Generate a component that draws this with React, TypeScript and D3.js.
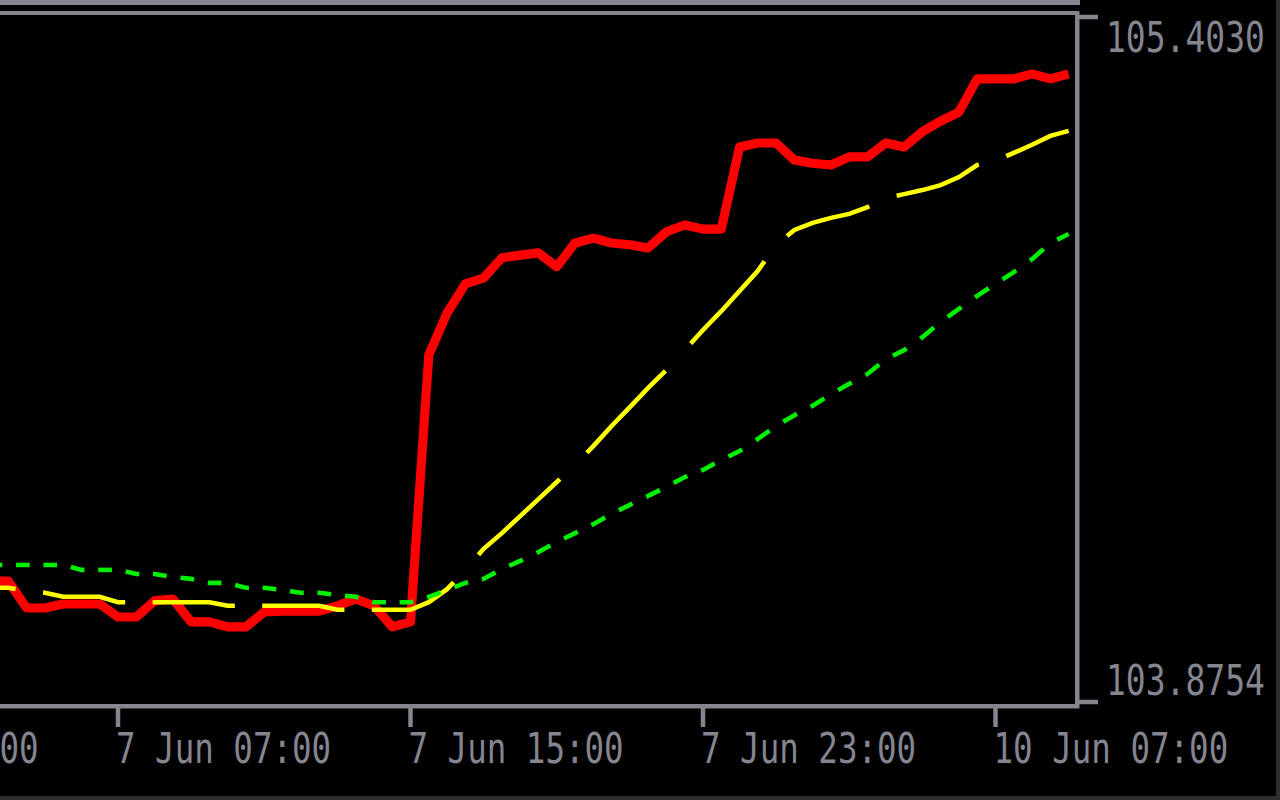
import * as d3 from 'd3';

import React, { useEffect, useRef } from 'react';

// bar times, hours after 7 Jun 07:00 (weekend gap removed, as the terminal does)
const barHours = [
  -3.5, -3, -2.5, -2, -1.5, -1, -0.5, 0, 0.5, 1, 1.5, 2, 2.5, 3, 3.5, 4, 4.5, 5, 5.5, 6, 6.5, 7, 7.5, 8,
  8.5, 9, 9.5, 10, 10.5, 11, 11.5, 12, 12.5, 13, 13.5, 14, 14.5, 15, 15.5, 16, 16.5, 17, 17.5, 18, 18.5,
  19, 19.5, 20, 20.5, 21, 21.5, 22, 22.5, 23, 23.5, 24, 24.5, 25, 25.5, 26,
];

const redValues = [
  104.145, 104.145, 104.085, 104.085, 104.094, 104.094, 104.094, 104.065, 104.065, 104.101, 104.105,
  104.054, 104.054, 104.043, 104.043, 104.076, 104.078, 104.078, 104.078, 104.09, 104.105, 104.09,
  104.043, 104.054, 104.649, 104.743, 104.808, 104.821, 104.866, 104.872, 104.877, 104.846, 104.899,
  104.91, 104.899, 104.895, 104.888, 104.924, 104.939, 104.93, 104.93, 105.113, 105.122, 105.122,
  105.084, 105.077, 105.073, 105.091, 105.091, 105.122, 105.113, 105.147, 105.171, 105.191, 105.265,
  105.265, 105.265, 105.276, 105.265, 105.276,
];

const yellowValues = [
  104.13, 104.13, 104.123, 104.119, 104.11, 104.11, 104.11, 104.098, 104.098, 104.098, 104.098, 104.098,
  104.098, 104.09, 104.09, 104.09, 104.09, 104.09, 104.09, 104.081, 104.081, 104.081, 104.081, 104.081,
  104.098, 104.127, 104.17, 104.217, 104.252, 104.29, 104.328, 104.366, 104.404, 104.446, 104.491,
  104.533, 104.576, 104.616, 104.66, 104.705, 104.747, 104.792, 104.837, 104.895, 104.928, 104.944,
  104.955, 104.964, 104.979, 104.999, 105.008, 105.017, 105.028, 105.046, 105.073, 105.082, 105.1,
  105.118, 105.138, 105.149,
];

const greenValues = [
  104.181, 104.181, 104.181, 104.181, 104.181, 104.17, 104.17, 104.17, 104.161, 104.161, 104.154,
  104.15, 104.141, 104.141, 104.13, 104.13, 104.125, 104.119, 104.119, 104.114, 104.11, 104.098,
  104.098, 104.098, 104.11, 104.125, 104.141, 104.15, 104.172, 104.19, 104.21, 104.232, 104.252,
  104.272, 104.295, 104.315, 104.335, 104.355, 104.377, 104.393, 104.415, 104.435, 104.462, 104.491,
  104.515, 104.536, 104.562, 104.585, 104.607, 104.64, 104.66, 104.689, 104.723, 104.752, 104.781,
  104.808, 104.834, 104.863, 104.899, 104.919,
];

const timeTicks = [-8, 0, 8, 16, 24];
const timeLabels = ['6 Jun 23:00', '7 Jun 07:00', '7 Jun 15:00', '7 Jun 23:00', '10 Jun 07:00'];

const priceTicks = [105.403, 103.8754];
const priceLabels = ['105.4030', '103.8754'];

const GREY = '#84858f';
const U = 4.567; // one screen pixel of the terminal, scaled up
const FONT = '"DejaVu Sans Mono", monospace';

type Pt = [number, number];

// terminal-style dashes: pattern is counted along the major axis of each segment
function dashSplit(pts: Pt[], on: number, off: number, start: number): Pt[][] {
  const period = on + off;
  const out: Pt[][] = [];
  let phase = ((start % period) + period) % period;
  let inDash = phase < on;
  let cur: Pt[] | null = inDash ? [pts[0]] : null;
  for (let i = 1; i < pts.length; i++) {
    const [x0, y0] = pts[i - 1];
    const [x1, y1] = pts[i];
    const len = Math.max(Math.abs(x1 - x0), Math.abs(y1 - y0));
    let t = 0;
    while (t < len) {
      const boundary = inDash ? on : period;
      const step = Math.min(boundary - phase, len - t);
      t += step;
      phase += step;
      const p: Pt = [x0 + ((x1 - x0) * t) / len, y0 + ((y1 - y0) * t) / len];
      if (phase >= boundary - 1e-6) {
        if (inDash) {
          cur!.push(p);
          out.push(cur!);
          cur = null;
          inDash = false;
        } else {
          phase = 0;
          cur = [p];
          inDash = true;
        }
      } else if (inDash) {
        cur!.push(p);
      }
    }
  }
  if (cur && cur.length > 1) out.push(cur);
  return out;
}

export default function App() {
  const ref = useRef(null);

  useEffect(() => {
    document.body.style.margin = '0';
    document.body.style.background = '#000';

    const svg = d3.select(ref.current).attr('width', 1280).attr('height', 800);
    svg.selectAll('*').remove();

    const xScale = d3.scaleLinear().domain([0, 8]).range([118, 410.5]);
    const yScale = d3.scaleLinear().domain([103.8754, 105.403]).range([702, 17]);

    svg.append('rect').attr('width', 1280).attr('height', 800).attr('fill', '#000');

    svg
      .append('defs')
      .append('clipPath')
      .attr('id', 'plot')
      .append('rect')
      .attr('x', 0)
      .attr('y', 15)
      .attr('width', 1075)
      .attr('height', 689);

    const plot = svg.append('g').attr('clip-path', 'url(#plot)');
    const line = d3.line<Pt>();

    const project = (vals: number[]): Pt[] => barHours.map((h, i) => [xScale(h), yScale(vals[i])]);

    // red
    plot
      .append('path')
      .attr('d', line(project(redValues)))
      .attr('fill', 'none')
      .attr('stroke', '#ff0000')
      .attr('stroke-width', 2 * U)
      .attr('stroke-linejoin', 'round');

    // yellow, dashed 18 on / 6 off
    const yPts = project(yellowValues);
    plot
      .append('g')
      .selectAll('path')
      .data(dashSplit(yPts, 18 * U, 6 * U, yPts[0][0] - 43))
      .join('path')
      .attr('d', (d) => line(d))
      .attr('fill', 'none')
      .attr('stroke', '#ffff00')
      .attr('stroke-width', U);

    // green, dotted 3 on / 3 off
    const gPts = project(greenValues);
    plot
      .append('g')
      .selectAll('path')
      .data(dashSplit(gPts, 3 * U, 3 * U, gPts[0][0] - 16))
      .join('path')
      .attr('d', (d) => line(d))
      .attr('fill', 'none')
      .attr('stroke', '#00f000')
      .attr('stroke-width', U);

    // frame
    svg.append('rect').attr('x', 0).attr('y', 0).attr('width', 1080).attr('height', 5).attr('fill', GREY);
    svg.append('rect').attr('x', 0).attr('y', 11).attr('width', 1079).attr('height', 4).attr('fill', GREY);
    svg.append('rect').attr('x', 0).attr('y', 704).attr('width', 1079).attr('height', 4.5).attr('fill', GREY);
    svg.append('rect').attr('x', 1075).attr('y', 11).attr('width', 4.5).attr('height', 697).attr('fill', GREY);

    // price axis
    const pAxis = svg.append('g');
    pAxis
      .selectAll('rect')
      .data(priceTicks)
      .join('rect')
      .attr('x', 1079)
      .attr('y', (d) => yScale(d) - 2.25)
      .attr('width', 19)
      .attr('height', 4.5)
      .attr('fill', GREY);
    pAxis
      .selectAll('text')
      .data(priceTicks)
      .join('text')
      .attr('transform', (d, i) => `translate(1106, ${i === 0 ? 52 : 695}) scale(1, 1.3)`)
      .attr('font-family', FONT)
      .attr('font-size', 33)
      .attr('fill', GREY)
      .text((d, i) => priceLabels[i]);

    // time axis
    const tAxis = svg.append('g');
    tAxis
      .selectAll('rect')
      .data(timeTicks)
      .join('rect')
      .attr('x', (d) => xScale(d) - 2.25)
      .attr('y', 708)
      .attr('width', 4.5)
      .attr('height', 19)
      .attr('fill', GREY);
    tAxis
      .selectAll('text')
      .data(timeTicks)
      .join('text')
      .attr('transform', (d) => `translate(${xScale(d) - 2}, 763) scale(1, 1.31)`)
      .attr('font-family', FONT)
      .attr('font-size', 32.5)
      .attr('fill', GREY)
      .text((d, i) => timeLabels[i]);

    // window edges
    svg.append('rect').attr('x', 0).attr('y', 796).attr('width', 1280).attr('height', 4).attr('fill', '#2e2e30');
    svg.append('rect').attr('x', 1276).attr('y', 0).attr('width', 4).attr('height', 800).attr('fill', '#2e2e30');
  }, []);

  return <svg ref={ref} style={{ display: 'block' }}></svg>;
}
